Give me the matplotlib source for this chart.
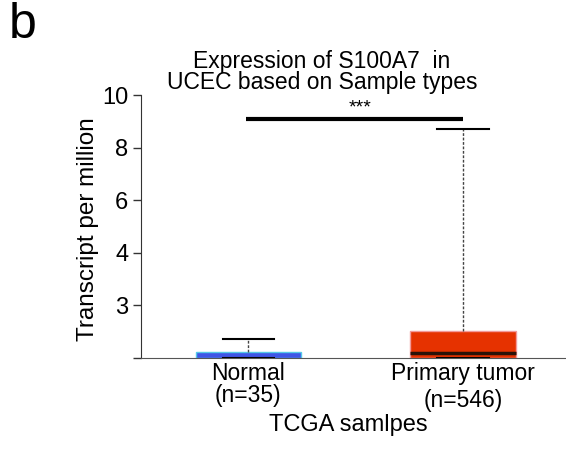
import numpy as np
import matplotlib
matplotlib.use("Agg")
import matplotlib.pyplot as plt

plt.rcParams['font.family'] = ['Liberation Sans', 'DejaVu Sans']

# data (TPM)
groups = ["Normal\n(n=35)", "Primary tumor\n(n=546)"]
q1 = [0.0, 0.0]
med = [0.0, 0.27]
q3 = [0.33, 1.53]
whis_lo = [0.0, 0.0]
whis_hi = [1.08, 8.72]
box_colors = ['#3f55e6', '#e63200']
edge_colors = ['#55c8e8', '#f29a9a']

# the y axis in the original is not linear: equally spaced labels
tick_vals = [0, 3, 4, 6, 8, 10]
tick_labels = ['', '3', '4', '6', '8', '10']
tick_pos = np.arange(len(tick_vals))

def fwd(v):
    return np.interp(v, tick_vals, tick_pos)

def inv(p):
    return np.interp(p, tick_pos, tick_vals)

fig = plt.figure(figsize=(5.66, 4.5), dpi=100)
ax = fig.add_axes([141/566, 1 - 358/450, 1 - 141/566, (358 - 95)/450])
ax.set_yscale('function', functions=(fwd, inv))

stats = []
for i in range(2):
    stats.append(dict(q1=q1[i], med=med[i], q3=q3[i], whislo=whis_lo[i], whishi=whis_hi[i], fliers=[]))

bp = ax.bxp(stats, positions=[1, 2], widths=0.49, patch_artist=True, showfliers=False,
            whiskerprops=dict(linestyle=(0, (2, 1.2)), color='#444444', lw=1),
            capprops=dict(color='black', lw=1.5),
            medianprops=dict(color='#2a1208', lw=2.5),
            capwidths=0.24)
for patch, fc, ec in zip(bp['boxes'], box_colors, edge_colors):
    patch.set_facecolor(fc)
    patch.set_edgecolor(ec)
    patch.set_linewidth(1)
bp['medians'][0].set_visible(False)

# significance bar
ax.plot([0.99, 2], [9.1, 9.1], color='black', lw=3, solid_capstyle='butt')
ax.text(1.52, 9.2, '***', ha='center', va='bottom', fontsize=14)

ax.set_xlim(0.5, 2.48)
ax.set_ylim(0, 10)
ax.set_yticks(tick_vals)
ax.set_yticklabels(tick_labels, fontsize=17)
ax.yaxis.set_minor_locator(matplotlib.ticker.NullLocator())
ax.tick_params(axis='y', length=6, width=1, color='#333333', pad=3)
ax.set_xticks([1, 2])
ax.set_xticklabels(groups, fontsize=16.5)
ax.tick_params(axis='x', length=0, pad=3)
xt = ax.get_xticklabels()
xt[0].set_linespacing(0.95)
xt[1].set_linespacing(1.2)

for s in ['top', 'right']:
    ax.spines[s].set_visible(False)
ax.spines['left'].set_color('#333333')
ax.spines['bottom'].set_color('#555555')

ax.set_ylabel('Transcript per million', fontsize=17.5)
ax.yaxis.set_label_coords(-0.098, 0.49)
fig.text(348/566, 1 - 425/450, 'TCGA samlpes', ha='center', va='center', fontsize=17)

fig.text(322/566, 1 - 72/450, 'Expression of S100A7  in\nUCEC based on Sample types',
         ha='center', va='center', fontsize=16.5, linespacing=0.88)
fig.text(0.015, 0.995, 'b', ha='left', va='top', fontsize=36)

fig.savefig('out.png', dpi=100)
